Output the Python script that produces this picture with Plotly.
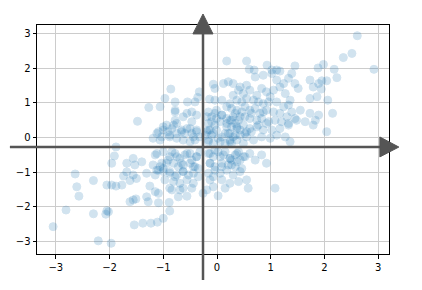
import plotly.graph_objects as go

# Scatter values (data units)
x_vals = [
    # upper area
    0.18, 0.55, 0.60, 0.69, 0.93, 1.02, 1.11, -0.07, 0.12, 0.21, -0.04, -0.33, -0.86, -0.97, -0.78, -0.55, -0.41, -0.36, -0.14, -0.04, 0.09,
    # upper right
    2.61, 2.51, 2.35, 2.92, 2.18, 2.23, 1.98, 1.88, 1.45, 1.17, 1.95, 2.04, 1.94, 2.06, 2.15, 2.04,
    # dense right cluster
    0.30, 0.43, 0.55, 0.71, 0.86, 1.02, 1.11, 1.24, 1.33, 1.39, 1.45, 1.51, 1.73, 1.79, 1.89,
    0.49, 0.61, 0.74, 0.83, 0.92, 0.99, 1.05, 1.17, 1.27, 1.36, 1.73, 1.86,
    0.46, 0.55, 0.68, 0.77, 0.86, 0.96, 1.11, 1.24, 1.33, 1.39,
    0.27, 0.37, 0.52, 0.61, 0.71, 0.80, 0.92, 1.05, 1.17, 1.30, 1.48, 1.55, 1.73, 1.83, 1.89,
    0.30, 0.40, 0.52, 0.61, 0.74, 0.83, 0.96, 1.08, 1.20, 1.33, 1.45, 1.64, 1.79,
    0.27, 0.37, 0.49, 0.61, 0.74, 0.86, 1.02, 1.17, 1.33,
    0.30, 0.43, 0.55, 0.68, 0.83, 0.99, 1.11, 1.27, 1.36,
    0.27, 0.49, 0.34, 0.43, 0.24, 0.37, 0.55, 0.34, 0.46,
    0.24, 0.37, 0.30, 0.40, 0.64, 0.86, 0.77, 0.92, 0.52, 0.64, 0.24, 0.24,
    # centre
    -0.78, -0.56, -0.47, -0.38, -0.16, -0.10, -0.04, 0.09, 0.18,
    -0.16, -0.04, 0.06, 0.18,
    -0.94, -0.84, -0.75, -1.00, -1.09, -0.88, -0.66, -0.56, -0.47, -0.38, -0.32, -0.19, -0.10, -0.01, 0.09, 0.21, -0.13,
    -1.19, -1.06, -0.75, -0.63, -0.50, -0.41, -0.16, -0.07, 0.06, 0.15,
    -1.12, -1.00, -0.88, -0.78, -0.69, -0.60, -0.50, -0.38, -0.32, -0.16, -0.07, 0.02, 0.12, 0.24, 0.37, 0.43, 0.52,
    -1.19, -1.06, -0.94, -0.81, -0.72, -0.63, -0.50, -0.41, -0.13, -0.04, 0.09, 0.21, 0.34, 0.27,
    -1.09, -1.15, -1.00, -0.88, -0.78, -0.63, -0.53, -0.44, -0.35, -0.16, -0.07, 0.06, 0.18, 0.30, 0.43, 0.55,
    -0.97, -0.81, -0.69, -0.56, -0.44, -0.13, 0.09, 0.24, 0.40, -0.63, -0.47, -0.88, -0.07, 0.15,
    0.61, 0.71, 0.83, 0.92,
    -1.06, -0.78, -0.01, 0.18,
    -1.00, -0.91, -0.81, -0.75, -0.66, -0.60, -0.50, -0.44, -0.38, -1.12, -1.03, -0.88, -0.78, -0.63, -0.47,
    -0.19, -0.10, -0.01, 0.09, 0.18, 0.27, 0.37, 0.43, -0.16, -0.07, 0.02, 0.15, 0.24, 0.34, -0.16, -0.22,
    -1.15, -1.03, -0.91, -0.84, -0.75, -0.66, -0.56, -0.47, -0.38, -0.44, -0.35, -0.63, -0.75, -0.88, -1.00, -1.12,
    -0.13, -0.04, 0.06, 0.15, 0.24, 0.34, 0.40, 0.49, -0.13, -0.04, 0.09, 0.27, 0.37, 0.46,
    # left
    -1.27, -1.48, -1.88, -1.91, -1.96, -1.68, -1.56, -1.40, -1.53, -1.68, -1.56, -1.50, -1.74, -1.31, -2.64,
    # lower left
    -2.61, -2.57, -2.30, -2.05, -1.96, -1.88, -1.77, -1.62, -1.25, -1.15, -1.09, -1.31, -1.28, -1.62, -1.56, -1.51,
    -2.81, -2.30, -2.05, -2.02, -2.07, -3.05, -2.21, -1.97, -1.54, -1.38, -1.23, -1.11,
    # lower centre
    -1.09, -0.89, -0.88, -1.00, -0.84, -0.69, -0.72, -0.56, -0.26, -0.19, 0.02, 0.58, 1.08,
]
y_vals = [
    2.21, 2.21, 1.97, 1.95, 2.09, 1.95, 1.95, 1.54, 1.56, 1.61, 1.42, 1.32, 1.40, 1.13, 1.03, 1.03, 1.03, 1.16, 1.11, 1.08, 1.08,
    2.94, 2.43, 2.31, 1.97, 1.97, 1.73, 2.11, 2.01, 2.07, 1.92, 1.64, 1.64, 1.40, 1.08, 0.70, 0.17,
    1.56, 1.46, 1.51, 1.75, 1.80, 1.85, 1.66, 1.56, 1.71, 1.85, 1.56, 1.42, 1.66, 1.46, 1.56,
    1.27, 1.37, 1.22, 1.42, 1.32, 1.18, 1.37, 1.46, 1.27, 1.08, 1.13, 1.18,
    1.03, 1.13, 1.08, 1.03, 0.98, 1.03, 1.03, 0.89, 0.94, 0.74,
    0.84, 0.79, 0.89, 0.79, 0.84, 0.70, 0.79, 0.74, 0.70, 0.60, 0.50, 0.79, 0.70, 0.50, 0.65,
    0.60, 0.50, 0.60, 0.55, 0.50, 0.55, 0.46, 0.50, 0.46, 0.41, 0.55, 0.46, 0.36,
    0.31, 0.26, 0.36, 0.26, 0.31, 0.22, 0.22, 0.26, 0.36,
    0.02, 0.07, 0.02, -0.07, 0.02, -0.02, 0.07, 0.02, -0.12,
    -0.17, -0.17, 0.41, 0.22, 0.12, -0.07, 0.17, 0.70, 0.74,
    0.98, 1.08, 1.22, 1.37, 0.70, 0.74, 0.36, 0.41, 0.12, 0.17, 0.50, -0.12,
    0.74, 0.70, 0.74, 0.65, 0.74, 0.60, 0.70, 0.65, 0.55,
    0.41, 0.36, 0.46, 0.31,
    0.36, 0.26, 0.41, 0.22, 0.17, 0.07, 0.17, 0.26, 0.12, 0.22, 0.02, 0.17, 0.07, 0.22, 0.02, 0.12, 0.22,
    -0.02, -0.07, -0.02, -0.07, -0.12, -0.07, -0.12, -0.17, -0.12, -0.17,
    -0.46, -0.41, -0.55, -0.46, -0.60, -0.50, -0.46, -0.55, -0.41, -0.46, -0.55, -0.41, -0.50, -0.60, -0.46, -0.65, -0.55,
    -0.79, -0.84, -0.74, -0.74, -0.84, -0.79, -0.74, -0.84, -0.74, -0.84, -0.74, -0.79, -0.84, -0.65,
    -0.94, -1.08, -0.98, -1.03, -1.13, -0.98, -1.08, -1.03, -1.13, -1.03, -1.13, -1.03, -0.94, -1.08, -0.98, -1.22,
    -1.22, -1.27, -1.32, -1.22, -1.32, -1.22, -1.22, -1.32, -1.27, -1.46, -1.46, -1.46, -1.42, -1.46,
    -0.46, -0.65, -0.50, -0.74,
    0.89, 0.79, 0.79, 0.89,
    0.31, 0.17, 0.36, 0.12, 0.22, 0.12, 0.26, 0.02, 0.17, 0.12, 0.02, 0.02, 0.50, 0.60, 0.46,
    0.60, 0.46, 0.55, 0.65, 0.41, 0.50, 0.31, 0.60, 0.22, 0.12, -0.02, 0.12, -0.07, 0.07, -0.07, 0.07,
    -0.50, -0.74, -0.65, -0.41, -0.55, -0.74, -0.46, -0.65, -0.55, -0.84, -0.89, -0.98, -1.08, -0.98, -0.89, -0.94,
    -0.46, -0.36, -0.55, -0.41, -0.60, -0.50, -0.41, -0.55, -0.74, -0.94, -0.84, -0.79, -0.70, -0.89,
    0.87, 0.47, -0.27, -0.53, -0.74, -0.74, -0.60, -0.70, -0.79, -0.99, -1.08, -1.18, -1.11, -1.03, -1.05,
    -1.42, -1.69, -1.24, -1.37, -1.37, -1.40, -1.37, -1.24, -1.40, -1.56, -1.61, -1.71, -1.85, -1.85, -1.80, -1.77,
    -2.09, -2.20, -2.11, -2.14, -2.21, -2.57, -2.98, -3.05, -2.52, -2.47, -2.47, -2.44,
    -1.88, -1.87, -2.12, -2.33, -1.51, -1.51, -1.71, -1.69, -1.61, -1.51, -1.68, -1.46, -1.46,
]

tick_vals = [-3, -2, -1, 0, 1, 2, 3]

fig = go.Figure()
fig.add_trace(go.Scatter(
    x=x_vals, y=y_vals, mode="markers",
    marker=dict(size=8, color="#1f77b4", opacity=0.2,
                line=dict(color="#1f77b4", width=1)),
    hoverinfo="skip", showlegend=False,
))

arrow_col = "#555555"
shapes = [
    dict(type="line", xref="paper", yref="paper", x0=-0.077, x1=0.977, y0=0.467, y1=0.467,
         line=dict(color=arrow_col, width=2.5), layer="above"),
    dict(type="path", xref="paper", yref="paper",
         path="M 0.974 0.511 L 1.028 0.467 L 0.974 0.424 Z",
         fillcolor=arrow_col, line=dict(color=arrow_col, width=1), layer="above"),
    dict(type="line", xref="paper", yref="paper", x0=0.4716, x1=0.4716, y0=-0.1135, y1=0.962,
         line=dict(color=arrow_col, width=2.5), layer="above"),
    dict(type="path", xref="paper", yref="paper",
         path="M 0.443 0.961 L 0.4716 1.048 L 0.500 0.961 Z",
         fillcolor=arrow_col, line=dict(color=arrow_col, width=1), layer="above"),
]

axis_common = dict(
    tickvals=tick_vals, showgrid=True, gridcolor="#cccccc", gridwidth=1,
    zeroline=False, showline=True, linecolor="black", linewidth=1, mirror=True,
    ticks="outside", ticklen=3.5, tickcolor="black", tickwidth=0.8,
    tickfont=dict(family="DejaVu Sans", size=10, color="black"),
)

fig.update_layout(
    width=422, height=290,
    margin=dict(l=37, r=33, t=25, b=36),
    paper_bgcolor="white", plot_bgcolor="white",
    xaxis=dict(range=[-3.35, 3.20], **axis_common),
    yaxis=dict(range=[-3.36, 3.25], **axis_common),
    shapes=shapes,
)

fig.write_html("out.html")
